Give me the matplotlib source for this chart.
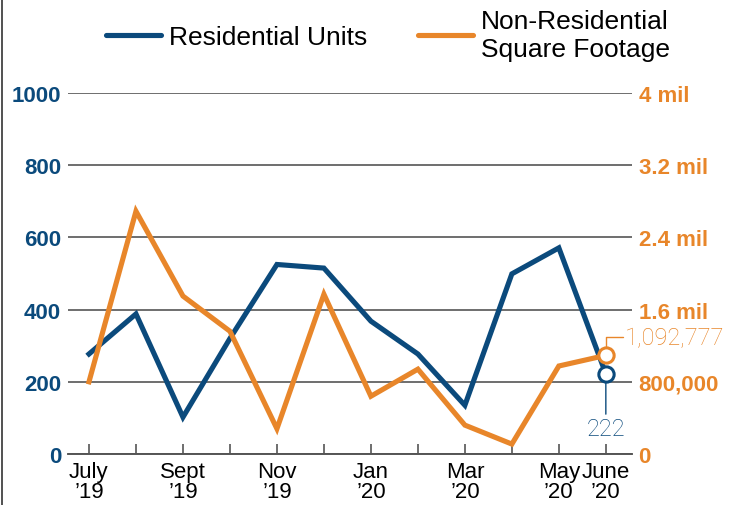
import matplotlib.pyplot as plt
from matplotlib.lines import Line2D

# monthly values, July 2019 - June 2020
months = ["July\n\u201919", "Aug", "Sept\n\u201919", "Oct", "Nov\n\u201919", "Dec",
          "Jan\n\u201920", "Feb", "Mar\n\u201920", "Apr", "May\n\u201920", "June\n\u201920"]
shown = [True, False, True, False, True, False, True, False, True, False, True, True]
residential = [277, 388, 102, 320, 525, 515, 368, 277, 135, 499, 571, 222]
non_res_sqft = [800000, 2690000, 1750000, 1360000, 280000, 1770000,
                640000, 940000, 320000, 110000, 975000, 1092777]

left_ticks = [0, 200, 400, 600, 800, 1000]
right_ticks = [0, 800000, 1600000, 2400000, 3200000, 4000000]
right_labels = ["0", "800,000", "1.6 mil", "2.4 mil", "3.2 mil", "4 mil"]

BLUE = "#0b4a7c"
ORANGE = "#e8862a"
GRID = "#555555"

plt.rcParams["font.family"] = ["Liberation Sans", "DejaVu Sans"]

fig = plt.figure(figsize=(7.52, 5.06), dpi=100)
ax = fig.add_axes([0.0904, 0.1008, 0.7496, 0.7134])
ax2 = ax.twinx()

x = list(range(len(months)))

for t in left_ticks:
    ax.axhline(t, color=GRID, lw=1.2, zorder=1)

ax.plot(x, residential, color=BLUE, lw=3.7, solid_joinstyle="miter", zorder=3)
ax2.plot(x, non_res_sqft, color=ORANGE, lw=3.7, solid_joinstyle="miter", zorder=3)

# end markers with leaders
ax.plot(x[-1], residential[-1], "o", ms=11, mfc="white", mec=BLUE, mew=2.2, zorder=5)
ax2.plot(x[-1], non_res_sqft[-1], "o", ms=11, mfc="white", mec=ORANGE, mew=2.2, zorder=5)
label_font = dict(fontsize=17, family=["Roboto", "DejaVu Sans"], fontweight="light")
ax.annotate(f"{residential[-1]}", xy=(x[-1], residential[-1]), xytext=(0, -31),
            textcoords="offset points", ha="center", va="top", color=BLUE,
            arrowprops=dict(arrowstyle="-", color=BLUE, lw=1.0, shrinkA=0, shrinkB=6),
            **label_font)
ax2.annotate(f"{non_res_sqft[-1]:,}", xy=(x[-1], non_res_sqft[-1]), xytext=(14, 13),
             textcoords="offset points", ha="left", va="center", color=ORANGE,
             annotation_clip=False,
             arrowprops=dict(arrowstyle="-", color=ORANGE, lw=1.0, shrinkA=0, shrinkB=6,
                             connectionstyle="angle,angleA=0,angleB=90,rad=0"),
             **label_font)

ax.set_xlim(-0.447, 11.55)
ax.set_ylim(0, 1000)
ax2.set_ylim(0, 4000000)

ax.set_xticks(x)
ax.set_xticklabels([m if s else "" for m, s in zip(months, shown)], fontsize=16, linespacing=0.95)
ax.tick_params(axis="x", direction="in", length=7, width=1.2, color=GRID, pad=5)

ax.set_yticks(left_ticks)
ax.set_yticklabels([str(t) for t in left_ticks], fontsize=16, fontweight="bold", color=BLUE)
ax.tick_params(axis="y", length=0, pad=5)

ax2.set_yticks(right_ticks)
ax2.set_yticklabels(right_labels, fontsize=16, fontweight="bold", color=ORANGE)
ax2.tick_params(axis="y", length=0, pad=5)

for a in (ax, ax2):
    for side in ("top", "left", "right"):
        a.spines[side].set_visible(False)
    a.spines["bottom"].set_color(GRID)
    a.spines["bottom"].set_linewidth(1.2)

handles = [Line2D([], [], color=BLUE, lw=3.7, solid_capstyle="round"),
           Line2D([], [], color=ORANGE, lw=3.7, solid_capstyle="round")]
fig.legend(handles, ["Residential Units", "Non-Residential\nSquare Footage"],
           loc="center", bbox_to_anchor=(0.516, 0.929), ncol=2, frameon=False,
           fontsize=19, handlelength=2.1, handletextpad=0.3, columnspacing=1.9,
           labelspacing=0.2)

# left frame edge
fig.add_artist(Line2D([0.003, 0.003], [0, 1], transform=fig.transFigure, color="#333333", lw=1.2))

fig.savefig("out.png", dpi=100)
